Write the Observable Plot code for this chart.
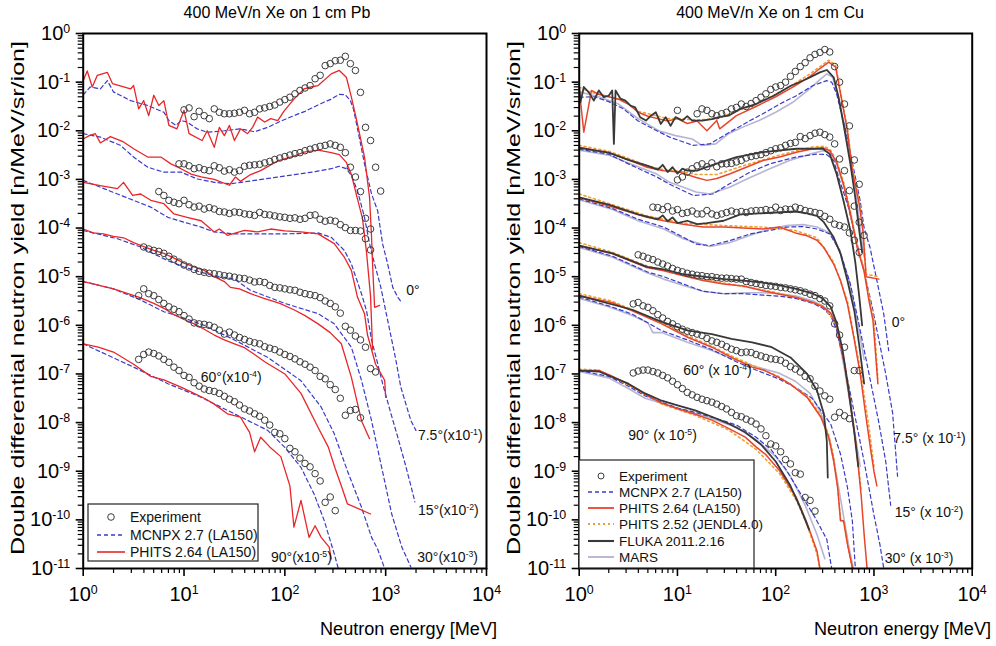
<!DOCTYPE html>
<html><head><meta charset="utf-8">
<script src="https://cdn.jsdelivr.net/npm/d3@7"></script>
<script src="https://cdn.jsdelivr.net/npm/@observablehq/plot@0.6"></script>
<style>
body{margin:0;background:#fff;font-family:"Liberation Sans",Arial,sans-serif}
#wrap{position:relative;width:996px;height:646px;overflow:hidden}
#wrap svg{position:absolute;top:0;overflow:visible}
</style></head><body><div id="wrap"></div>
<script>
// ---- axes ----
const xTicks = [1, 10, 100, 1000, 10000];
const yTicks = [1e-11,1e-10,1e-9,1e-8,1e-7,1e-6,1e-5,1e-4,1e-3,1e-2,1e-1,1];

// ---- experiment energy bins (log10 MeV) ----
const expLogE = [0.55,0.6,0.65,0.7,0.75,0.8,0.85,0.9,0.95,1.0,
 1.05,1.1,1.15,1.2,1.25,1.3,1.35,1.4,1.45,1.5,
 1.55,1.6,1.65,1.7,1.75,1.8,1.85,1.9,1.95,2.0,
 2.05,2.1,2.15,2.2,2.25,2.3,2.35,2.4,2.45,2.5,
 2.55,2.6,2.65,2.7,2.75,2.8,2.85,2.9,2.95];

// ===== Pb : experiment (log10 yield) =====
const pbExp0 = [null,null,null,null,null,null,null,null,null,-1.57,
 -1.53,-1.71,-1.60,-1.69,-1.75,-1.55,-1.62,-1.65,-1.65,-1.64,
 -1.62,-1.58,-1.65,-1.62,-1.55,-1.53,-1.50,-1.47,-1.41,-1.36,
 -1.31,-1.24,-1.17,-1.12,-1.07,-0.93,-0.86,-0.66,-0.62,-0.56,
 -0.55,-0.47,-0.62,-0.76,-1.21,-1.93,-2.2,-2.75,-3.24];
const pbExp7 = [null,null,null,null,null,null,null,null,-2.68,-2.68,
 -2.72,-2.78,-2.76,-2.8,-2.82,-2.72,-2.76,-2.83,-2.8,-2.85,
 -2.82,-2.73,-2.71,-2.7,-2.69,-2.66,-2.63,-2.59,-2.56,-2.53,
 -2.5,-2.47,-2.45,-2.41,-2.38,-2.35,-2.32,-2.3,-2.27,-2.3,
 -2.34,-2.45,-2.75,-2.95,-3.25,-3.8,-4.02,null,null];
const pbExp15 = [null,null,null,null,-3.25,-3.33,-3.43,-3.47,-3.5,-3.43,
 -3.52,-3.57,-3.55,-3.61,-3.58,-3.61,-3.66,-3.67,-3.7,-3.67,
 -3.68,-3.71,-3.72,-3.74,-3.68,-3.72,-3.73,-3.75,-3.77,-3.78,
 -3.8,-3.79,-3.82,-3.8,-3.74,-3.73,-3.82,-3.86,-3.84,-3.86,
 -3.93,-3.99,-4.05,-4.05,-4.06,-4.22,-4.45,null,null];
const pbExp30 = [null,-4.39,-4.43,-4.46,-4.48,-4.52,-4.58,-4.64,-4.7,-4.76,
 -4.8,-4.85,-4.89,-4.91,-4.93,-4.94,-4.96,-4.98,-4.99,-5.01,
 -5.03,-5.04,-5.07,-5.11,-5.1,-5.12,-5.18,-5.22,-5.23,-5.25,
 -5.27,-5.28,-5.32,-5.35,-5.37,-5.39,-5.43,-5.5,-5.55,-5.62,
 -5.75,-6.02,-6.1,-6.22,-6.3,-6.45,-6.89,-6.96,null];
const pbExp60 = [-5.39,-5.25,-5.35,-5.39,-5.47,-5.55,-5.62,-5.67,-5.72,-5.8,
 -5.87,-5.95,-5.97,-5.98,-6.0,-6.04,-6.1,-6.18,-6.14,-6.2,
 -6.25,-6.29,-6.33,-6.36,-6.38,-6.44,-6.47,-6.5,-6.55,-6.6,
 -6.64,-6.69,-6.75,-6.8,-6.86,-6.93,-7.05,-7.1,-7.22,-7.32,
 -7.5,-7.85,-7.75,-7.73,-7.9,null,null,null,null];
const pbExp90 = [-6.7,-6.6,-6.55,-6.58,-6.63,-6.7,-6.76,-6.86,-6.93,-7.03,
 -7.07,-7.18,-7.25,-7.31,-7.34,-7.36,-7.4,-7.46,-7.52,-7.57,
 -7.64,-7.72,-7.76,-7.82,-7.87,-7.95,-8.05,-8.2,-8.23,-8.33,
 -8.53,-8.6,-8.73,-8.84,-8.91,-9.05,-9.2,-9.64,-9.53,-9.81,
 null,null,null,null,null,null,null,null,null];

// ===== Pb : calculations [log10 E, log10 yield] =====
const pb0Phits = [[0,-0.97],[0.04,-0.77],[0.09,-1.1],[0.14,-0.86],[0.24,-0.8],[0.29,-1.03],[0.47,-1.14],[0.5,-1.07],[0.55,-1.55],[0.6,-1.38],[0.65,-1.69],[0.7,-1.27],[0.75,-1.48],[0.8,-1.38],[0.85,-1.89],[0.93,-1.96],[1.0,-1.58],[1.05,-2.06],[1.18,-2.2],[1.23,-2.0],[1.3,-2.34],[1.35,-1.93],[1.4,-2.1],[1.45,-1.89],[1.5,-2.2],[1.56,-1.96],[1.63,-2.06],[1.68,-1.93],[1.73,-1.72],[1.8,-1.82],[1.86,-1.75],[1.93,-1.79],[1.99,-1.6],[2.09,-1.35],[2.19,-1.14],[2.26,-1.1],[2.33,-1.07],[2.46,-0.83],[2.54,-0.76],[2.61,-0.9],[2.66,-1.31],[2.72,-1.86],[2.79,-2.54],[2.84,-3.37],[2.86,-4.19],[2.87,-4.74],[2.89,-5.63],[2.94,-5.59]];
const pb0Mcnpx = [[0,-1.26],[0.07,-1.1],[0.17,-1.14],[0.24,-0.97],[0.3,-1.2],[0.47,-1.38],[0.64,-1.48],[0.8,-1.62],[0.85,-1.79],[0.92,-1.89],[0.97,-1.79],[1.03,-1.82],[1.13,-1.96],[1.23,-2.03],[1.4,-2.0],[1.56,-1.96],[1.7,-2.02],[1.83,-1.93],[1.96,-1.8],[2.1,-1.68],[2.2,-1.6],[2.3,-1.5],[2.4,-1.4],[2.46,-1.35],[2.54,-1.25],[2.6,-1.26],[2.65,-1.38],[2.68,-1.55],[2.72,-1.95],[2.79,-2.68],[2.86,-3.3],[2.92,-3.64],[2.97,-4.33],[3.02,-4.74],[3.07,-5.22],[3.12,-5.42],[3.155,-5.52]];
const pb7Phits = [[0,-2.17],[0.06,-2.1],[0.12,-2.06],[0.17,-2.25],[0.27,-2.12],[0.4,-2.23],[0.5,-2.37],[0.64,-2.54],[0.77,-2.54],[0.87,-2.68],[0.97,-2.78],[1.07,-2.89],[1.17,-2.95],[1.3,-3.0],[1.45,-3.12],[1.51,-2.95],[1.56,-3.04],[1.66,-2.9],[1.76,-2.82],[1.93,-2.62],[2.09,-2.52],[2.19,-2.44],[2.33,-2.4],[2.46,-2.45],[2.54,-2.49],[2.61,-2.65],[2.66,-2.9],[2.72,-3.4],[2.77,-3.8],[2.81,-4.5],[2.85,-5.4],[2.87,-6.5]];
const pb7Mcnpx = [[0,-2.06],[0.17,-2.13],[0.37,-2.3],[0.5,-2.54],[0.64,-2.75],[0.8,-2.85],[0.97,-2.85],[1.13,-2.99],[1.3,-3.06],[1.46,-3.09],[1.7,-3.02],[2.0,-2.93],[2.3,-2.84],[2.46,-2.78],[2.54,-2.73],[2.61,-2.78],[2.66,-2.92],[2.72,-3.23],[2.79,-3.78],[2.84,-4.32],[2.89,-4.74],[2.95,-5.2],[3.02,-5.9],[3.1,-6.7],[3.15,-7.27],[3.25,-7.96],[3.3,-8.16]];
const pb15Phits = [[0,-3.06],[0.17,-3.13],[0.34,-3.19],[0.4,-3.06],[0.49,-3.33],[0.57,-3.3],[0.67,-3.43],[0.8,-3.5],[0.9,-3.71],[1.03,-3.78],[1.17,-3.85],[1.3,-4.08],[1.35,-4.02],[1.43,-4.15],[1.6,-4.05],[1.73,-4.08],[1.86,-4.02],[2.0,-4.06],[2.16,-4.08],[2.33,-4.12],[2.49,-4.32],[2.59,-4.6],[2.66,-4.87],[2.72,-5.42],[2.79,-5.76],[2.82,-6.2],[2.9,-6.8],[2.99,-7.13],[3.0,-7.48]];
const pb15Mcnpx = [[0,-3.02],[0.34,-3.3],[0.67,-3.57],[0.84,-3.78],[1.0,-3.88],[1.17,-3.98],[1.3,-4.08],[1.5,-4.12],[1.76,-4.12],[2.0,-4.12],[2.33,-4.1],[2.46,-4.19],[2.59,-4.46],[2.66,-4.74],[2.76,-5.35],[2.81,-5.7],[2.86,-6.3],[2.91,-6.7],[2.97,-7.2],[3.05,-7.8],[3.12,-8.3],[3.2,-8.9],[3.25,-9.3],[3.29,-9.63]];
const pb30Phits = [[0,-4.02],[0.1,-4.1],[0.2,-4.12],[0.3,-4.17],[0.4,-4.2],[0.5,-4.3],[0.6,-4.38],[0.7,-4.46],[0.8,-4.52],[0.9,-4.62],[1.0,-4.72],[1.1,-4.8],[1.2,-4.87],[1.3,-5.0],[1.4,-5.1],[1.46,-5.22],[1.55,-5.25],[1.66,-5.35],[1.8,-5.45],[1.95,-5.55],[2.1,-5.69],[2.2,-5.8],[2.33,-5.97],[2.45,-6.15],[2.56,-6.38],[2.66,-7.07],[2.76,-7.96],[2.84,-8.33]];
const pb30Mcnpx = [[0,-4.05],[0.34,-4.22],[0.57,-4.39],[0.7,-4.53],[0.84,-4.67],[1.0,-4.8],[1.17,-4.91],[1.3,-4.98],[1.5,-5.05],[1.66,-5.28],[2.0,-5.55],[2.33,-5.76],[2.49,-5.97],[2.66,-6.45],[2.76,-7.13],[2.86,-7.96],[2.96,-8.92],[3.06,-9.88],[3.16,-10.56],[3.25,-10.97]];
const pb60Phits = [[0,-5.1],[0.1,-5.15],[0.3,-5.25],[0.55,-5.42],[0.7,-5.55],[0.8,-5.65],[0.9,-5.78],[1.0,-5.88],[1.1,-5.97],[1.2,-6.08],[1.3,-6.2],[1.4,-6.3],[1.5,-6.38],[1.6,-6.46],[1.7,-6.6],[1.8,-6.75],[2.0,-7.0],[2.16,-7.4],[2.33,-8.1],[2.43,-8.5],[2.5,-8.95],[2.56,-9.3],[2.62,-9.67],[2.85,-9.88]];
const pb60Mcnpx = [[0,-5.1],[0.3,-5.25],[0.57,-5.48],[0.8,-5.72],[1.0,-5.85],[1.2,-6.0],[1.5,-6.3],[1.83,-6.66],[2.16,-7.14],[2.36,-7.68],[2.49,-8.23],[2.62,-8.99],[2.76,-9.74],[2.86,-10.36],[2.92,-10.6],[2.99,-11.0]];
const pb90Phits = [[0,-6.38],[0.15,-6.45],[0.3,-6.55],[0.5,-6.8],[0.67,-7.05],[0.8,-7.12],[0.97,-7.27],[1.1,-7.4],[1.2,-7.5],[1.3,-7.62],[1.43,-7.82],[1.56,-7.89],[1.65,-8.2],[1.7,-8.6],[1.76,-8.3],[1.85,-8.5],[1.96,-8.7],[2.05,-9.3],[2.09,-10.15],[2.16,-9.6],[2.24,-10.36],[2.3,-10.12],[2.36,-10.36],[2.44,-10.56],[2.46,-10.8]];
const pb90Mcnpx = [[0,-6.38],[0.5,-6.86],[0.84,-7.2],[1.17,-7.48],[1.5,-7.82],[1.83,-8.16],[2.0,-8.51],[2.16,-8.92],[2.29,-9.47],[2.39,-10.01],[2.49,-10.7],[2.53,-11.0]];

// ===== Cu : experiment (log10 yield) =====
const cuExp0 = [null,null,null,null,null,null,null,null,null,-1.58,
 null,null,null,-1.65,-1.55,-1.58,-1.65,-1.69,-1.65,-1.62,
 -1.55,-1.52,-1.45,-1.5,-1.44,-1.38,-1.31,-1.24,-1.15,-1.1,
 -1.07,-1.0,-0.88,-0.78,-0.68,-0.6,-0.5,-0.43,-0.39,-0.33,
 -0.38,-0.68,-1.0,-1.45,-1.9,-2.6,-3.1,null,null];
const cuExp7 = [null,null,null,null,null,null,null,null,null,-3.01,
 -2.95,-2.85,-2.78,-2.72,-2.68,-2.74,-2.66,-2.74,-2.68,-2.68,
 -2.67,-2.64,-2.61,-2.56,-2.53,-2.51,-2.49,-2.45,-2.41,-2.37,
 -2.35,-2.3,-2.26,-2.24,-2.12,-2.16,-2.1,-2.05,-2.03,-2.08,
 -2.13,-2.27,-2.58,-2.82,-3.23,-3.55,-3.88,-4.15,null];
const cuExp15 = [null,null,null,null,-3.57,-3.58,-3.62,-3.56,-3.65,-3.62,
 -3.7,-3.68,-3.65,-3.71,-3.71,-3.64,-3.71,-3.74,-3.71,-3.68,
 -3.65,-3.68,-3.66,-3.68,-3.65,-3.64,-3.64,-3.62,-3.64,-3.57,
 -3.64,-3.61,-3.62,-3.57,-3.6,-3.64,-3.66,-3.68,-3.7,-3.76,
 -3.82,-3.92,-3.95,-3.98,-4.1,-4.25,-4.5,null,null];
const cuExp30 = [null,-4.55,-4.58,-4.62,-4.65,-4.7,-4.74,-4.78,-4.83,-4.87,
 -4.9,-4.93,-4.95,-4.97,-4.98,-5.0,-5.0,-5.02,-5.03,-5.03,
 -5.04,-5.05,-5.05,-5.1,-5.12,-5.14,-5.16,-5.18,-5.19,-5.2,
 -5.22,-5.23,-5.25,-5.27,-5.29,-5.32,-5.36,-5.39,-5.45,-5.5,
 -5.6,-5.97,-6.2,-6.45,null,-6.93,-6.93,null,null];
const cuExp60 = [-5.56,-5.53,-5.6,-5.63,-5.7,-5.78,-5.85,-5.92,-5.97,-6.03,
 -6.08,-6.12,-6.15,-6.18,-6.21,-6.27,-6.32,-6.35,-6.39,-6.44,
 -6.49,-6.52,-6.56,-6.55,-6.56,-6.6,-6.63,-6.66,-6.69,-6.7,
 -6.72,-6.78,-6.85,-6.9,-6.96,-7.05,-7.1,-7.25,-7.35,-7.45,
 -7.52,-7.89,-7.79,-7.86,-7.92,null,null,null,null];
const cuExp90 = [-6.98,-6.94,-6.92,-6.92,-6.95,-6.98,-7.03,-7.08,-7.15,-7.22,
 -7.3,-7.38,-7.43,-7.48,-7.52,-7.55,-7.58,-7.62,-7.67,-7.72,
 -7.79,-7.86,-7.88,-7.93,-7.97,-8.03,-8.13,-8.27,-8.44,-8.48,
 -8.6,-8.76,-8.85,-9.03,-9.06,-9.54,-9.6,-9.82,null,null,
 null,null,null,null,null,null,null,null,null];

// ===== Cu : calculations [log10 E, log10 yield] =====
const cu0Fluka = [[0,-1.1],[0.013,-1.41],[0.047,-1.1],[0.098,-1.21],[0.149,-1.38],[0.2,-1.17],[0.25,-1.31],[0.3,-1.28],[0.336,-1.17],[0.353,-2.27],[0.37,-1.17],[0.42,-1.34],[0.47,-1.38],[0.52,-1.48],[0.57,-1.52],[0.62,-1.72],[0.68,-1.79],[0.73,-1.69],[0.78,-1.62],[0.83,-1.86],[0.88,-1.72],[0.93,-1.9],[0.98,-1.72],[1.05,-1.79],[1.1,-1.7],[1.15,-1.79],[1.25,-1.79],[1.35,-1.76],[1.42,-1.72],[1.52,-1.69],[1.64,-1.55],[1.8,-1.45],[1.98,-1.28],[2.15,-1.08],[2.32,-0.93],[2.45,-0.8],[2.52,-0.75],[2.59,-0.9],[2.64,-1.31],[2.69,-1.86],[2.76,-2.68],[2.81,-3.37],[2.85,-4.05],[2.88,-4.5]];
const cu0Phits = [[0,-1.14],[0.047,-2.03],[0.125,-1.17],[0.2,-1.25],[0.3,-1.3],[0.4,-1.35],[0.5,-1.45],[0.6,-1.62],[0.7,-1.7],[0.8,-1.75],[0.9,-1.8],[1.0,-1.75],[1.1,-1.85],[1.2,-1.8],[1.3,-2.0],[1.4,-1.79],[1.43,-1.96],[1.6,-1.69],[1.8,-1.5],[2.0,-1.3],[2.2,-1.07],[2.35,-0.88],[2.45,-0.72],[2.54,-0.59],[2.61,-0.69],[2.66,-1.24],[2.73,-2.0],[2.78,-2.82],[2.85,-3.5],[2.89,-4.1],[2.92,-5.0],[3.05,-5.05]];
const cu0Phits252 = [[0,-1.1],[0.1,-1.2],[0.2,-1.25],[0.3,-1.3],[0.4,-1.35],[0.5,-1.45],[0.6,-1.6],[0.7,-1.65],[0.8,-1.7],[0.9,-1.75],[1.0,-1.75],[1.2,-1.78],[1.4,-1.75],[1.6,-1.6],[1.8,-1.45],[2.0,-1.25],[2.2,-1.02],[2.35,-0.83],[2.45,-0.68],[2.54,-0.55],[2.61,-0.65],[2.66,-1.2],[2.73,-1.95],[2.78,-2.75],[2.85,-3.45],[2.89,-4.05],[2.92,-4.95],[3.05,-5.0]];
const cu0Mcnpx = [[0,-1.31],[0.15,-1.3],[0.3,-1.4],[0.45,-1.55],[0.6,-1.8],[0.79,-2.0],[0.92,-2.13],[1.16,-2.3],[1.33,-2.27],[1.53,-2.03],[1.74,-1.79],[1.87,-1.65],[2.04,-1.45],[2.21,-1.28],[2.38,-1.07],[2.52,-0.97],[2.57,-1.0],[2.62,-1.24],[2.72,-2.06],[2.79,-2.75],[2.86,-3.44],[2.9,-4.0],[2.96,-4.4],[3.03,-5.08],[3.1,-5.77],[3.15,-6.52]];
const cu0Mars = [[0,-1.2],[0.2,-1.3],[0.4,-1.45],[0.6,-1.75],[0.81,-2.0],[0.98,-2.1],[1.15,-2.17],[1.25,-2.3],[1.39,-2.27],[1.52,-2.06],[1.66,-1.93],[1.83,-1.79],[2.0,-1.62],[2.17,-1.42],[2.34,-1.15],[2.45,-0.95],[2.52,-0.83],[2.58,-0.9],[2.64,-1.35],[2.7,-1.9],[2.76,-2.6],[2.82,-3.3],[2.86,-4.0],[2.9,-4.6]];
const cu7Fluka = [[0,-2.35],[0.3,-2.45],[0.5,-2.6],[0.7,-2.72],[0.8,-2.8],[0.85,-2.7],[0.9,-2.85],[0.95,-2.75],[1.0,-2.88],[1.05,-2.78],[1.1,-2.82],[1.2,-2.82],[1.33,-2.72],[1.6,-2.54],[1.87,-2.44],[2.21,-2.37],[2.48,-2.37],[2.55,-2.48],[2.62,-2.89],[2.69,-3.44],[2.76,-4.05],[2.81,-4.7],[2.85,-5.4],[2.88,-6.0]];
const cu7Phits = [[0,-2.34],[0.3,-2.45],[0.52,-2.61],[0.69,-2.75],[0.86,-2.82],[1.02,-2.85],[1.19,-2.96],[1.3,-3.02],[1.4,-2.98],[1.53,-2.89],[1.7,-2.75],[1.87,-2.61],[2.04,-2.54],[2.21,-2.44],[2.38,-2.37],[2.48,-2.35],[2.55,-2.41],[2.62,-2.65],[2.69,-3.1],[2.76,-3.7],[2.83,-4.4],[2.9,-4.9],[2.95,-5.5],[2.99,-5.9],[3.04,-7.2]];
const cu7Phits252 = [[0,-2.3],[0.3,-2.42],[0.52,-2.58],[0.69,-2.72],[0.86,-2.8],[1.02,-2.83],[1.19,-2.9],[1.4,-2.9],[1.7,-2.7],[2.04,-2.5],[2.38,-2.33],[2.5,-2.32],[2.56,-2.4],[2.62,-2.62],[2.69,-3.05],[2.76,-3.65],[2.83,-4.35],[2.9,-4.85],[2.96,-5.5],[3.0,-5.9],[3.04,-7.1]];
const cu7Mcnpx = [[0,-2.38],[0.3,-2.48],[0.52,-2.7],[0.79,-2.95],[0.92,-3.1],[1.16,-3.33],[1.36,-3.3],[1.53,-3.09],[1.74,-2.85],[1.94,-2.68],[2.21,-2.54],[2.42,-2.48],[2.52,-2.49],[2.59,-2.61],[2.65,-3.02],[2.74,-3.57],[2.82,-4.26],[2.89,-4.81],[2.98,-5.6],[3.05,-6.3],[3.12,-7.0],[3.19,-7.8],[3.24,-9.1]];
const cu7Mars = [[0,-2.4],[0.3,-2.5],[0.52,-2.68],[0.79,-2.89],[0.92,-3.06],[1.06,-3.16],[1.19,-3.26],[1.33,-3.3],[1.53,-3.16],[1.74,-2.96],[1.94,-2.78],[2.14,-2.61],[2.35,-2.48],[2.48,-2.41],[2.55,-2.44],[2.62,-2.68],[2.7,-3.2],[2.78,-3.9],[2.85,-4.6]];
const cu15Fluka = [[0,-3.37],[0.3,-3.52],[0.6,-3.72],[0.8,-3.82],[0.85,-3.74],[0.9,-3.86],[0.95,-3.78],[1.0,-3.9],[1.1,-3.85],[1.2,-3.92],[1.3,-3.9],[1.47,-3.85],[1.64,-3.72],[1.74,-3.71],[2.0,-3.68],[2.2,-3.66],[2.32,-3.7],[2.42,-3.75],[2.49,-3.88],[2.59,-4.19],[2.66,-4.53],[2.73,-5.08],[2.8,-5.7],[2.85,-6.4],[2.9,-7.2]];
const cu15Phits = [[0,-3.37],[0.34,-3.57],[0.69,-3.78],[0.86,-3.85],[1.06,-3.92],[1.26,-3.98],[1.47,-3.98],[1.67,-4.0],[1.87,-4.02],[2.04,-3.98],[2.2,-4.1],[2.32,-4.16],[2.42,-4.25],[2.49,-4.4],[2.59,-4.74],[2.66,-5.08],[2.73,-5.56],[2.8,-6.3],[2.86,-7.0],[2.92,-7.9],[2.97,-8.6],[3.0,-9.0],[3.03,-9.3]];
const cu15Phits252 = [[0,-3.3],[0.34,-3.52],[0.69,-3.75],[1.06,-3.9],[1.47,-3.95],[1.87,-3.98],[2.2,-4.05],[2.42,-4.2],[2.59,-4.7],[2.73,-5.5],[2.86,-6.9],[2.95,-8.1],[3.0,-8.9]];
const cu15Mcnpx = [[0,-3.4],[0.34,-3.6],[0.6,-3.82],[0.86,-3.98],[1.06,-4.19],[1.19,-4.33],[1.33,-4.36],[1.53,-4.26],[1.74,-4.12],[1.94,-4.05],[2.11,-3.98],[2.28,-3.97],[2.42,-4.02],[2.55,-4.12],[2.65,-4.46],[2.76,-5.15],[2.85,-6.0],[2.95,-7.0],[3.05,-8.0],[3.12,-8.8],[3.17,-9.7]];
const cu15Mars = [[0,-3.42],[0.34,-3.62],[0.6,-3.85],[0.86,-4.02],[1.06,-4.22],[1.19,-4.3],[1.33,-4.38],[1.53,-4.3],[1.74,-4.15],[1.94,-4.02],[2.11,-3.95],[2.28,-3.93],[2.42,-3.98],[2.55,-4.1],[2.65,-4.45],[2.75,-5.1],[2.83,-5.9],[2.9,-6.7]];
const cu30Fluka = [[0,-4.36],[0.34,-4.52],[0.69,-4.8],[0.86,-4.85],[1.06,-4.95],[1.26,-5.0],[1.47,-5.05],[1.67,-5.08],[1.87,-5.12],[2.04,-5.18],[2.21,-5.25],[2.38,-5.35],[2.48,-5.45],[2.56,-5.62],[2.62,-5.95],[2.68,-6.5],[2.74,-7.3],[2.8,-8.2],[2.84,-8.9]];
const cu30Phits = [[0,-4.36],[0.34,-4.53],[0.69,-4.81],[0.86,-4.88],[1.06,-4.98],[1.26,-5.08],[1.47,-5.15],[1.67,-5.19],[1.87,-5.29],[2.04,-5.36],[2.21,-5.43],[2.38,-5.53],[2.48,-5.62],[2.56,-5.75],[2.62,-6.0],[2.7,-6.8],[2.76,-7.6],[2.82,-8.5],[2.87,-9.5],[2.9,-10.3],[2.93,-11.0]];
const cu30Phits252 = [[0,-4.3],[0.34,-4.5],[0.69,-4.78],[1.06,-4.97],[1.47,-5.13],[1.87,-5.27],[2.21,-5.42],[2.48,-5.6],[2.62,-5.98],[2.7,-6.75],[2.76,-7.55],[2.82,-8.45],[2.87,-9.4]];
const cu30Mcnpx = [[0,-4.38],[0.34,-4.58],[0.69,-4.9],[0.86,-5.0],[1.06,-5.15],[1.26,-5.3],[1.47,-5.35],[1.67,-5.35],[1.87,-5.38],[2.04,-5.4],[2.21,-5.45],[2.38,-5.55],[2.48,-5.65],[2.56,-5.8],[2.62,-6.1],[2.7,-6.8],[2.8,-7.8],[2.9,-8.8],[3.0,-9.9],[3.06,-10.5],[3.1,-11.0]];
const cu30Mars = [[0,-4.4],[0.34,-4.6],[0.69,-4.92],[0.86,-5.05],[1.06,-5.18],[1.26,-5.3],[1.47,-5.35],[1.67,-5.33],[1.87,-5.33],[2.04,-5.35],[2.21,-5.4],[2.38,-5.5],[2.48,-5.6],[2.56,-5.75],[2.62,-6.05],[2.7,-6.9],[2.78,-7.9],[2.86,-8.9]];
const cu60Fluka = [[0,-5.39],[0.54,-5.68],[0.84,-5.93],[1.11,-6.11],[1.35,-6.18],[1.55,-6.28],[1.76,-6.35],[1.96,-6.45],[2.15,-6.66],[2.32,-7.0],[2.42,-7.34],[2.49,-7.82],[2.52,-8.37],[2.53,-9.13]];
const cu60Phits = [[0,-5.39],[0.33,-5.53],[0.54,-5.7],[0.84,-5.97],[1.11,-6.25],[1.35,-6.45],[1.55,-6.66],[1.76,-6.86],[1.89,-6.93],[2.03,-7.07],[2.15,-7.21],[2.32,-7.48],[2.46,-7.89],[2.54,-8.3],[2.59,-8.78],[2.63,-9.33],[2.66,-10.02],[2.69,-10.02],[2.73,-10.5],[2.78,-10.98]];
const cu60Phits252 = [[0,-5.35],[0.33,-5.5],[0.54,-5.68],[0.84,-5.95],[1.11,-6.22],[1.35,-6.43],[1.55,-6.63],[1.76,-6.82],[2.03,-7.05],[2.32,-7.45],[2.46,-7.85],[2.54,-8.25],[2.59,-8.7],[2.63,-9.3],[2.66,-10.0],[2.7,-10.05],[2.74,-10.6],[2.78,-11.0]];
const cu60Mcnpx = [[0,-5.42],[0.3,-5.6],[0.54,-5.77],[0.84,-6.11],[1.1,-6.3],[1.35,-6.5],[1.6,-6.75],[1.8,-6.92],[2.03,-7.1],[2.22,-7.3],[2.37,-7.5],[2.46,-7.75],[2.56,-8.03],[2.66,-8.65],[2.73,-9.33],[2.78,-10.02],[2.81,-10.98]];
const cu60Mars = [[0,-5.45],[0.3,-5.62],[0.54,-5.8],[0.7,-5.95],[0.75,-6.15],[0.84,-6.15],[1.1,-6.35],[1.35,-6.52],[1.6,-6.72],[1.8,-6.85],[2.03,-6.98],[2.2,-7.15],[2.35,-7.4],[2.46,-7.8],[2.55,-8.4],[2.62,-9.1],[2.68,-9.8],[2.74,-10.5],[2.79,-11.0]];
const cu90Fluka = [[0,-6.93],[0.2,-6.95],[0.5,-7.2],[0.67,-7.4],[0.84,-7.55],[1.01,-7.65],[1.18,-7.75],[1.35,-7.88],[1.52,-8.02],[1.69,-8.2],[1.85,-8.45],[2.0,-8.8],[2.15,-9.3],[2.25,-9.75],[2.34,-10.2]];
const cu90Phits = [[0,-6.93],[0.2,-6.93],[0.33,-7.04],[0.5,-7.21],[0.67,-7.42],[0.84,-7.6],[1.01,-7.72],[1.18,-7.83],[1.35,-7.95],[1.52,-8.12],[1.69,-8.3],[1.8,-8.5],[1.9,-8.66],[2.04,-8.99],[2.21,-9.54],[2.31,-10.02],[2.42,-10.64],[2.45,-11.0]];
const cu90Phits252 = [[0,-6.9],[0.2,-6.92],[0.5,-7.22],[0.84,-7.62],[1.18,-7.85],[1.52,-8.15],[1.8,-8.55],[2.04,-9.05],[2.21,-9.6],[2.31,-10.05],[2.42,-10.7],[2.45,-11.0]];
const cu90Mcnpx = [[0,-6.93],[0.3,-7.05],[0.5,-7.25],[0.67,-7.45],[0.84,-7.58],[1.0,-7.7],[1.2,-7.8],[1.4,-7.92],[1.6,-8.05],[1.8,-8.3],[1.95,-8.55],[2.1,-8.95],[2.25,-9.45],[2.4,-9.95],[2.52,-10.4],[2.57,-11.0]];
const cu90Mars = [[0,-6.95],[0.3,-7.08],[0.5,-7.3],[0.67,-7.5],[0.84,-7.6],[1.0,-7.7],[1.2,-7.82],[1.4,-7.95],[1.6,-8.1],[1.8,-8.35],[2.0,-8.7],[2.15,-9.1],[2.3,-9.7],[2.42,-10.3],[2.5,-10.8]];

// ---- angle annotations [log10 E, log10 yield] ----
const pbLabels = [
  {le:3.204, ly:-5.28, text:"0°"},
  {le:3.32, ly:-8.26, text:"7.5°(x10^-1)"},
  {le:3.32, ly:-9.81, text:"15°(x10^-2)"},
  {le:3.313, ly:-10.77, text:"30°(x10^-3)"},
  {le:1.166, ly:-7.07, text:"60°(x10^-4)"},
  {le:1.863, ly:-10.77, text:"90°(x10^-5)"}
];
const cuLabels = [
  {le:3.18, ly:-5.94, text:"0°"},
  {le:3.196, ly:-8.33, text:"7.5° (x 10^-1)"},
  {le:3.212, ly:-9.85, text:"15° (x 10^-2)"},
  {le:3.11, ly:-10.8, text:"30° (x 10^-3)"},
  {le:1.058, ly:-6.93, text:"60° (x 10^-4)"},
  {le:0.499, ly:-8.27, text:"90° (x 10^-5)"}
];

// ---- styles ----
const styles = {
  mcnpx:   {stroke:"#3a3acb", strokeWidth:1.2, strokeDasharray:"4,3"},
  phits:   {stroke:"#e8262a", strokeWidth:1.3},
  phitsCu: {stroke:"#e8452c", strokeWidth:1.5},
  phits252:{stroke:"#f0a032", strokeWidth:1.6, strokeDasharray:"2,3"},
  fluka:   {stroke:"#383838", strokeWidth:1.8},
  mars:    {stroke:"#b6b6d4", strokeWidth:1.6}
};

const pbLines = [
  ["mcnpx",pb0Mcnpx],["mcnpx",pb7Mcnpx],["mcnpx",pb15Mcnpx],["mcnpx",pb30Mcnpx],["mcnpx",pb60Mcnpx],["mcnpx",pb90Mcnpx],
  ["phits",pb0Phits],["phits",pb7Phits],["phits",pb15Phits],["phits",pb30Phits],["phits",pb60Phits],["phits",pb90Phits]
];
const cuLines = [
  ["mars",cu0Mars],["mars",cu7Mars],["mars",cu15Mars],["mars",cu30Mars],["mars",cu60Mars],["mars",cu90Mars],
  ["mcnpx",cu0Mcnpx],["mcnpx",cu7Mcnpx],["mcnpx",cu15Mcnpx],["mcnpx",cu30Mcnpx],["mcnpx",cu60Mcnpx],["mcnpx",cu90Mcnpx],
  ["phits252",cu0Phits252],["phits252",cu7Phits252],["phits252",cu15Phits252],["phits252",cu30Phits252],["phits252",cu60Phits252],["phits252",cu90Phits252],
  ["phitsCu",cu0Phits],["phitsCu",cu7Phits],["phitsCu",cu15Phits],["phitsCu",cu30Phits],["phitsCu",cu60Phits],["phitsCu",cu90Phits],
  ["fluka",cu0Fluka],["fluka",cu7Fluka],["fluka",cu15Fluka],["fluka",cu30Fluka],["fluka",cu60Fluka],["fluka",cu90Fluka]
];
const pbExps = [pbExp0,pbExp7,pbExp15,pbExp30,pbExp60,pbExp90];
const cuExps = [cuExp0,cuExp7,cuExp15,cuExp30,cuExp60,cuExp90];

const linePts = p => p.map(([a,b]) => ({E:10**a, v:10**b}));
const expPts = vals => { const o=[]; vals.forEach((v,i)=>{ if(v!=null) o.push({E:10**expLogE[i], v:10**v}); }); return o; };
const fmt = d => "10^" + Math.round(Math.log10(d));
const NS = "http://www.w3.org/2000/svg";

function supify(svg){
  svg.querySelectorAll("text").forEach(t => {
    if (t.querySelector("tspan")) return;
    const s = t.textContent;
    if (!s.includes("^")) return;
    const parts = s.split(/(\^-?\d+)/);
    t.textContent = "";
    parts.forEach(p => {
      if (!p) return;
      const ts = document.createElementNS(NS, "tspan");
      if (p[0] === "^") { ts.textContent = p.slice(1); ts.setAttribute("baseline-shift","super"); ts.setAttribute("font-size","62%"); }
      else ts.textContent = p;
      t.appendChild(ts);
    });
  });
}

function panel(cfg){
  const minorY = [], minorX = [];
  yTicks.slice(0,-1).forEach(t => { for (let k=2;k<10;k++) minorY.push(t*k); });
  xTicks.slice(0,-1).forEach(t => { for (let k=2;k<10;k++) minorX.push(t*k); });
  const marks = [];
  cfg.lines.forEach(([code, d]) => marks.push(Plot.line(linePts(d), {x:"E", y:"v", clip:true, ...styles[code]})));
  cfg.exps.forEach(e => marks.push(Plot.dot(expPts(e), {x:"E", y:"v", r:3.3, stroke:"#3c3c3c", strokeWidth:1, fill:"none"})));
  marks.push(Plot.text(cfg.labels, {x:d=>10**d.le, y:d=>10**d.ly, text:"text", textAnchor:"start", fontSize:14, fill:"#111"}));
  marks.push(Plot.axisY(minorY, {anchor:"left", tickSize:5, strokeWidth:1.2, tickFormat:()=>"", label:null}));
  marks.push(Plot.axisY(yTicks, {anchor:"left", tickSize:7, tickPadding:6, strokeWidth:1.6, tickFormat:fmt, label:null, fontSize:20}));
  marks.push(Plot.axisX(minorX, {anchor:"bottom", tickSize:5, strokeWidth:1.2, tickFormat:()=>"", label:null}));
  marks.push(Plot.axisX(xTicks, {anchor:"bottom", tickSize:8, tickPadding:10, strokeWidth:1.6, tickFormat:fmt, label:null, fontSize:20}));
  marks.push(Plot.frame({stroke:"#000", strokeWidth:2}));
  const svg = Plot.plot({
    width: cfg.width, height: 646,
    marginLeft: 82.7, marginRight: cfg.marginRight, marginTop: 33, marginBottom: 78,
    x: {type:"log", domain:[1,1e4], label:null},
    y: {type:"log", domain:[1e-11,1], label:null},
    style: {fontFamily:'"Liberation Sans", Arial, sans-serif', fontSize:"20px", overflow:"visible", background:"transparent", color:"#000"},
    marks
  });
  const g = d3.select(svg);
  // title
  g.append("text").attr("x", cfg.titleX).attr("y", 18).attr("text-anchor","middle")
    .attr("font-size", 16).text(cfg.title);
  // y title
  g.append("text").attr("transform","translate(24,298) rotate(-90)").attr("text-anchor","middle")
    .attr("font-size", 18.5).attr("textLength", 514).attr("lengthAdjust","spacingAndGlyphs")
    .text("Double differential neutron yield [n/MeV/sr/ion]");
  // x title
  g.append("text").attr("x", cfg.xTitleEnd - 177).attr("y", 635).attr("text-anchor","start")
    .attr("font-size", 18).attr("textLength", 177).attr("lengthAdjust","spacingAndGlyphs")
    .text("Neutron energy [MeV]");
  // legend
  const L = cfg.legend;
  g.append("rect").attr("x",L.x0).attr("y",L.y0).attr("width",L.x1-L.x0).attr("height",L.y1-L.y0)
    .attr("fill","#fff").attr("stroke","#222").attr("stroke-width",1.2);
  L.items.forEach((it, i) => {
    const y = L.rows[i];
    if (it.code === "exp") {
      g.append("circle").attr("cx",(L.sw0+L.sw1)/2).attr("cy",y).attr("r",L.cr)
        .attr("fill","none").attr("stroke","#3c3c3c").attr("stroke-width",1);
    } else {
      const s = styles[it.code];
      g.append("line").attr("x1",L.sw0).attr("x2",L.sw1).attr("y1",y).attr("y2",y)
        .attr("stroke",s.stroke).attr("stroke-width",s.strokeWidth+0.3)
        .attr("stroke-dasharray", s.strokeDasharray || null);
    }
    g.append("text").attr("x",L.tx).attr("y",y+5).attr("text-anchor","start")
      .attr("font-size",L.fs).attr("fill","#111").text(it.label);
  });
  supify(svg);
  return svg;
}

const left = panel({
  width: 496, marginRight: 10, lines: pbLines, exps: pbExps, labels: pbLabels,
  title: "400 MeV/n Xe on 1 cm Pb", titleX: 277, xTitleEnd: 497,
  legend: {x0:88, x1:258, y0:504, y1:561, rows:[517,535,552], sw0:97, sw1:125, tx:130, fs:14, cr:3.3,
    items:[{code:"exp",label:"Experiment"},{code:"mcnpx",label:"MCNPX 2.7 (LA150)"},{code:"phits",label:"PHITS 2.64 (LA150)"}]}
});
const right = panel({
  width: 500, marginRight: 24.3, lines: cuLines, exps: cuExps, labels: cuLabels,
  title: "400 MeV/n Xe on 1 cm Cu", titleX: 274, xTitleEnd: 495,
  legend: {x0:83, x1:258, y0:460, y1:568, rows:[476,492,508,524,541,557], sw0:92, sw1:118, tx:123, fs:13.5, cr:3,
    items:[{code:"exp",label:"Experiment"},{code:"mcnpx",label:"MCNPX 2.7 (LA150)"},{code:"phitsCu",label:"PHITS 2.64 (LA150)"},
           {code:"phits252",label:"PHITS 2.52 (JENDL4.0)"},{code:"fluka",label:"FLUKA 2011.2.16"},{code:"mars",label:"MARS"}]}
});
left.style.left = "0px";
right.style.left = "496px";
document.getElementById("wrap").append(left, right);
</script></body></html>
